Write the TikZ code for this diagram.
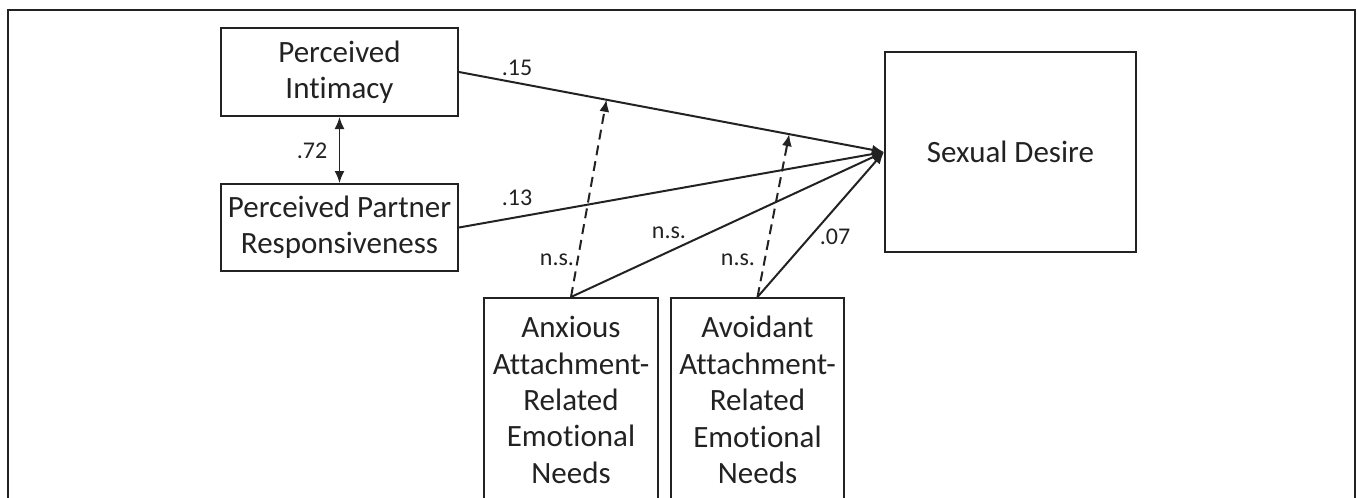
\documentclass[tikz,border=0pt]{standalone}
\usepackage{fontspec}
\setmainfont[Ligatures={NoCommon}]{Carlito}
\usetikzlibrary{arrows.meta, calc}
\definecolor{inkgray}{HTML}{222222}
\tikzset{
    varbox/.style={
        draw=inkgray,
        line width=1pt,
        align=center,
        text=inkgray,
        font=\fontsize{15.5}{18.2}\selectfont
    },
    coef/.style={text=inkgray, inner sep=0pt, font=\fontsize{12}{14}\selectfont},
    path/.style={-{Latex[length=6pt,width=5pt]}, line width=1pt, draw=inkgray},
    modpath/.style={-{Latex[length=6pt,width=5pt]}, line width=1pt, draw=inkgray, dash pattern=on 5pt off 3pt}
}

\begin{document}
\begin{tikzpicture}[x=0.5pt,y=-0.5pt]

\useasboundingbox (0,0) rectangle (1357,498);
\clip (0,0) rectangle (1357,498);

% outer frame
\draw[draw=inkgray, line width=0.6pt] (8,10) rectangle (1355,560);

% predictors and outcome
\node[varbox, minimum width=118.5pt, minimum height=44pt] (pi) at (339.5,72) {Perceived\\ Intimacy};
\node[varbox, minimum width=118.5pt, minimum height=43.5pt] (ppr) at (339.5,227.5) {Perceived Partner\\ Responsiveness};
\node[varbox, minimum width=125.5pt, minimum height=100pt] (sd) at (1010.5,152) {Sexual Desire};

% moderators
\node[varbox, minimum width=87pt, minimum height=102pt] (anx) at (571,400) {Anxious\\ Attachment-\\ Related\\ Emotional\\ Needs};
\node[varbox, minimum width=86.5pt, minimum height=102pt] (avo) at (757.5,400) {Avoidant\\ Attachment-\\ Related\\ Emotional\\ Needs};

% main paths
\draw[{Latex[length=6pt,width=5pt]}-{Latex[length=6pt,width=5pt]}, line width=0.8pt, draw=inkgray] (pi) -- (ppr);
\draw[path] (pi.east) -- (sd.west);
\draw[path] (ppr.east) -- (sd.west);
\draw[path] (anx.north) -- (sd.west);
\draw[path] (avo.north) -- (sd.west);

% moderation
\coordinate (modanx) at ($(pi.east)!0.347!(sd.west)$);
\coordinate (modavo) at ($(pi.east)!0.777!(sd.west)$);
\draw[modpath] (anx.north) -- (modanx);
\draw[modpath] (avo.north) -- (modavo);

% coefficients
\node[coef] (c72) at (312,151) {.72};
\node[coef] (c15) at (517,68) {.15};
\node[coef] (c13) at (517,198) {.13};
\node[coef] (nsanx) at (669,233) {n.s.};
\node[coef] (nsmanx) at (557,260) {n.s.};
\node[coef] (nsmavo) at (738,260) {n.s.};
\node[coef] (c07) at (835,237) {.07};

\end{tikzpicture}
\end{document}
